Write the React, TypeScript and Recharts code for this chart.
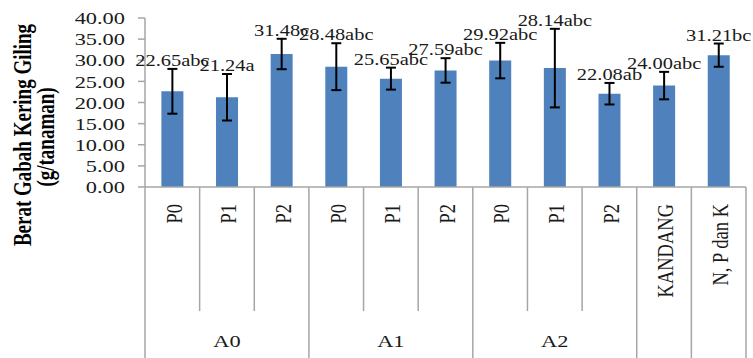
import { BarChart, Bar, XAxis, YAxis, ErrorBar, LabelList } from "recharts";

// treatment per bar, the A-group it belongs to, and the measured mean ± error
const categories = ["P0", "P1", "P2", "P0", "P1", "P2", "P0", "P1", "P2", "KANDANG", "N, P dan K"];
const groups = ["A0", "A0", "A0", "A1", "A1", "A1", "A2", "A2", "A2", "KANDANG", "NPK"];
const groupLabels = ["A0", "A0", "A0", "A1", "A1", "A1", "A2", "A2", "A2", "", ""];
const values = [22.65, 21.24, 31.48, 28.48, 25.65, 27.59, 29.92, 28.14, 22.08, 24.0, 31.21];
const errors = [5.3, 5.5, 3.6, 5.55, 2.6, 2.9, 4.2, 9.3, 2.55, 3.25, 2.75];
const notations = ["abc", "a", "c", "abc", "abc", "abc", "abc", "abc", "ab", "abc", "bc"];
const yTicks = [0, 5, 10, 15, 20, 25, 30, 35, 40];

const data = categories.map((c, i) => ({
  id: `${groups[i]}-${c}`,
  value: values[i],
  err: errors[i],
}));

const W = 753;
const H = 358;
const MARGIN = { top: 18, right: 7, bottom: 0, left: 0 };
const Y_AXIS_W = 145;
const X_AXIS_H = 171;
const SX = 1.28; // the reference is stretched horizontally
const FONT = "'Liberation Serif', 'Times New Roman', serif";
const GRID = "#a6a6a6";
const BLUE = "#4F81BD";

// eslint-disable-next-line @typescript-eslint/no-explicit-any
const YTick = ({ x, y, payload }: any) => (
  <text
    transform={`translate(${x},${y}) scale(${SX},1)`}
    textAnchor="end"
    dy="0.35em"
    fontFamily={FONT}
    fontSize={17.5}
    fill="#1a1a1a"
  >
    {Number(payload.value).toFixed(2)}
  </text>
);

// eslint-disable-next-line @typescript-eslint/no-explicit-any
const XTick = ({ y, payload, index }: any) => {
  const plotW = W - MARGIN.left - MARGIN.right - Y_AXIS_W;
  const half = payload.offset || plotW / categories.length / 2;
  const cx = payload.coordinate;
  const i = index ?? payload.index;
  const left = cx - half;
  const groupStart = i === 0 || groups[i - 1] !== groups[i];
  const bottom = y + X_AXIS_H;
  const innerBottom = y + 124;
  let size = 0;
  if (groupStart) {
    for (let k = i; k < groups.length && groups[k] === groups[i]; k++) size++;
  }
  return (
    <g>
      <line x1={left} y1={y} x2={left} y2={groupStart ? bottom : innerBottom} stroke={GRID} strokeWidth={1.5} />
      {i === categories.length - 1 && (
        <line x1={cx + half} y1={y} x2={cx + half} y2={bottom} stroke={GRID} strokeWidth={1.5} />
      )}
      <text
        transform={`translate(${cx + 1},${y + 17}) scale(${SX},1) rotate(-90)`}
        textAnchor="end"
        dy="0.35em"
        fontFamily={FONT}
        fontSize={18.5}
        fill="#1a1a1a"
      >
        {categories[i]}
      </text>
      {groupStart && groupLabels[i] && (
        <text
          transform={`translate(${left + size * half},${y + 154}) scale(${SX},1)`}
          textAnchor="middle"
          dy="0.35em"
          fontFamily={FONT}
          fontSize={17.5}
          fill="#1a1a1a"
        >
          {groupLabels[i]}
        </text>
      )}
    </g>
  );
};

// eslint-disable-next-line @typescript-eslint/no-explicit-any
const ValueLabel = ({ x, y, width, height, value, index }: any) => {
  const perUnit = height / value;
  const errTop = y - errors[index] * perUnit;
  return (
    <text
      transform={`translate(${x + width / 2},${errTop - 3}) scale(${SX},1)`}
      textAnchor="middle"
      fontFamily={FONT}
      fontSize={16}
      fill="#1a1a1a"
    >
      {`${Number(value).toFixed(2)}${notations[index]}`}
    </text>
  );
};

const YTitle = () => (
  <g fontFamily={FONT} fontWeight="bold" fontSize={19} fill="#000">
    <text transform={`translate(22,135) scale(${SX},1) rotate(-90)`} textAnchor="middle" dy="0.35em">
      Berat Gabah Kering Giling
    </text>
    <text transform={`translate(45,137) scale(${SX},1) rotate(-90)`} textAnchor="middle" dy="0.35em">
      (g/tanaman)
    </text>
  </g>
);

export default function App() {
  return (
    <div style={{ position: "absolute", left: 0, top: 0, width: W, height: H, background: "#fff" }}>
      <BarChart width={W} height={H} data={data} margin={MARGIN} barCategoryGap="30%">
        <YAxis
          width={Y_AXIS_W}
          domain={[0, 40]}
          ticks={yTicks}
          interval={0}
          tick={<YTick />}
          tickSize={7}
          tickMargin={13}
          tickLine={{ stroke: GRID, strokeWidth: 1.5 }}
          axisLine={{ stroke: GRID, strokeWidth: 1.5 }}
          label={{ content: () => <YTitle /> }}
        />
        <XAxis
          dataKey="id"
          height={X_AXIS_H}
          interval={0}
          tick={<XTick />}
          tickSize={0}
          tickMargin={0}
          tickLine={false}
          axisLine={{ stroke: GRID, strokeWidth: 1.5 }}
        />
        <Bar dataKey="value" fill={BLUE} isAnimationActive={false}>
          <ErrorBar dataKey="err" direction="y" width={5} stroke="#000" strokeWidth={2} />
          <LabelList dataKey="value" content={<ValueLabel />} />
        </Bar>
      </BarChart>
    </div>
  );
}
